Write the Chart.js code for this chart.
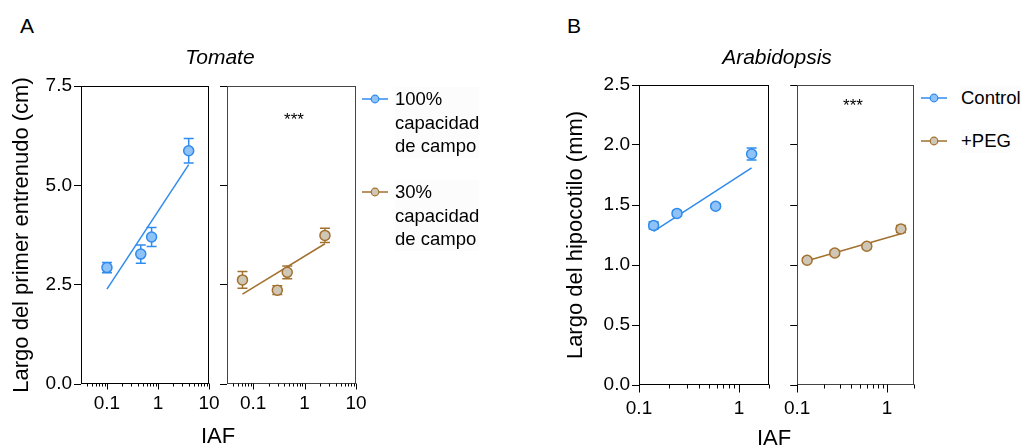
<!DOCTYPE html>
<html><head><meta charset="utf-8">
<script src="https://cdn.jsdelivr.net/npm/chart.js@4.4.1/dist/chart.umd.min.js"></script>
<style>
html,body{margin:0;padding:0;background:#fff;width:1023px;height:447px;overflow:hidden;font-family:'Liberation Sans',Arial,sans-serif;color:#000}
canvas{position:absolute}
.t{position:absolute;white-space:nowrap;line-height:1}
.leg{position:absolute;font-size:18.5px;line-height:23.5px;white-space:nowrap}
.leg svg{position:absolute}
</style></head><body>
<canvas id="a1" width="229" height="387" style="left:0px;top:60px"></canvas>
<canvas id="a2" width="161" height="387" style="left:215px;top:60px"></canvas>
<canvas id="b1" width="245" height="387" style="left:540px;top:60px"></canvas>
<canvas id="b2" width="160" height="387" style="left:772px;top:60px"></canvas>
<div class="t" style="left:20px;top:15px;font-size:21px">A</div>
<div class="t" style="left:567px;top:15px;font-size:21px">B</div>
<div class="t" id="titleA" style="left:220px;top:46px;font-size:21px;font-style:italic;transform:translateX(-50%)"></div>
<div class="t" id="titleB" style="left:777px;top:46px;font-size:21px;font-style:italic;transform:translateX(-50%)"></div>
<div class="t" id="sigA" style="left:294px;top:111px;font-size:17px;transform:translateX(-50%)"></div>
<div class="t" id="sigB" style="left:853px;top:97px;font-size:17px;transform:translateX(-50%)"></div>
<div class="t" id="xtA" style="left:218px;top:425px;font-size:22px;transform:translateX(-50%)"></div>
<div class="t" id="xtB" style="left:774px;top:427px;font-size:22px;transform:translateX(-50%)"></div>
<div id="legA"></div>
<div id="legB"></div>
<script>
// ---------------- DATA ----------------
const panelTitles = ['Tomate', 'Arabidopsis'];
const xAxisTitle = 'IAF';
const yTitleA = 'Largo del primer entrenudo (cm)';
const yTitleB = 'Largo del hipocotilo (mm)';
const significance = '***';

const seriesA = ['100%\ncapacidad\nde campo', '30%\ncapacidad\nde campo'];
const seriesB = ['Control', '+PEG'];

// Tomate, 100% capacidad de campo
const tomIAF100 = [0.10, 0.46, 0.75, 4.0];
const tomLen100 = [2.93, 3.27, 3.70, 5.87];
const tomErr100 = [0.13, 0.23, 0.24, 0.31];
const tomFitX100 = [0.10, 4.0];
const tomFitY100 = [2.39, 5.52];
// Tomate, 30% capacidad de campo
const tomIAF30 = [0.062, 0.295, 0.46, 2.49];
const tomLen30 = [2.62, 2.36, 2.81, 3.74];
const tomErr30 = [0.21, 0.11, 0.16, 0.18];
const tomFitX30 = [0.062, 2.49];
const tomFitY30 = [2.26, 3.53];
// Arabidopsis, Control
const araIAFc = [0.14, 0.24, 0.585, 1.34];
const araLenC = [1.33, 1.43, 1.49, 1.925];
const araErrC = [0.03, 0.02, 0.02, 0.05];
const araFitXc = [0.14, 1.34];
const araFitYc = [1.28, 1.81];
// Arabidopsis, +PEG
const araIAFp = [0.129, 0.262, 0.596, 1.43];
const araLenP = [1.04, 1.10, 1.156, 1.30];
const araErrP = [0.02, 0.02, 0.02, 0.03];
const araFitXp = [0.129, 1.43];
const araFitYp = [1.036, 1.26];

// Tick labels
const yTicksA = [0, 2.5, 5.0, 7.5];
const yTicksB = [0, 0.5, 1.0, 1.5, 2.0, 2.5];
const xMajorA = [0.1, 1, 10];
const xMajorB = [0.1, 1];

// ---------------- STYLE ----------------
const BLUE = '#2F8BEE', BLUE_FILL = '#8FC2F6';
const BROWN = '#A2712F', BROWN_FILL = '#D0C6B6';

Chart.defaults.font.family = "'Liberation Sans', Arial, sans-serif";
Chart.defaults.color = '#000';

function pts(xs, ys){ return xs.map((x,i)=>({x:x, y:ys[i]})); }

const panelPlugin = {
  id: 'panel',
  beforeDatasetsDraw(chart){
    const ctx = chart.ctx, xs = chart.scales.x, ys = chart.scales.y;
    chart.data.datasets.forEach(ds=>{
      if(!ds.errors) return;
      ctx.save(); ctx.strokeStyle = ds.borderColor; ctx.lineWidth = 1.5;
      ds.data.forEach((p,i)=>{
        const e = ds.errors[i];
        const x = xs.getPixelForValue(p.x);
        const y1 = ys.getPixelForValue(p.y + e), y2 = ys.getPixelForValue(p.y - e);
        ctx.beginPath();
        ctx.moveTo(x, y1); ctx.lineTo(x, y2);
        ctx.moveTo(x-5, y1); ctx.lineTo(x+5, y1);
        ctx.moveTo(x-5, y2); ctx.lineTo(x+5, y2);
        ctx.stroke();
      });
      ctx.restore();
    });
  },
  afterDraw(chart){
    const o = chart.options.plugins.panel;
    const ctx = chart.ctx, a = chart.chartArea, xs = chart.scales.x;
    ctx.save();
    ctx.strokeStyle = o.frame; ctx.lineWidth = 1;
    const l = Math.round(a.left)+0.5, t = Math.round(a.top)+0.5, r = Math.round(a.right)-0.5, b = Math.round(a.bottom)-0.5;
    ctx.strokeRect(l, t, r-l, b-t);
    ctx.strokeStyle = '#000';
    ctx.beginPath();
    xs.ticks.forEach(tk=>{
      const x = Math.round(xs.getPixelForValue(tk.value))+0.5;
      const len = o.majors.includes(tk.value) ? o.majorLen : o.minorLen;
      ctx.moveTo(x, b); ctx.lineTo(x, b+len);
    });
    ctx.stroke();
    ctx.restore();
  }
};

function makePanel(id, c){
  const ticksList = [];
  [0.01, 0.1, 1].forEach(d=>{
    for(let m=1;m<=9;m++){
      const v = +(m*d).toPrecision(3);
      if(v >= c.xmin - 1e-9 && v <= c.xmax + 1e-9) ticksList.push(v);
    }
  });
  c.majors.forEach(v=>{ if(!ticksList.includes(v) && v<=c.xmax) ticksList.push(v); });
  ticksList.sort((p,q)=>p-q);
  new Chart(document.getElementById(id), {
    type: 'scatter',
    data: { datasets: c.datasets },
    options: {
      responsive: false, animation: false, devicePixelRatio: 1,
      layout: { padding: { left: 0, top: c.padTop, right: c.padRight, bottom: 0 } },
      plugins: { legend: {display:false}, tooltip: {enabled:false},
        panel: { frame: c.frame, majors: c.majors, majorLen: c.majorLen, minorLen: c.minorLen } },
      scales: {
        x: {
          type: 'logarithmic', min: c.xmin, max: c.xmax,
          afterBuildTicks: s => { s.ticks = ticksList.map(v=>({value:v, major: c.majors.includes(v)})); },
          afterFit: s => { s.height = c.xh; },
          grid: { display: false, drawTicks: false },
          border: { display: false },
          ticks: { autoSkip: false, maxRotation: 0, minRotation: 0, padding: c.xPad, color:'#000',
            font: { size: 19 },
            callback: v => c.majors.includes(v) ? String(v) : '' }
        },
        y: {
          min: c.yTicks[0], max: c.yTicks[c.yTicks.length-1],
          afterBuildTicks: s => { s.ticks = c.yTicks.map(v=>({value:v})); },
          afterFit: s => { s.width = c.yw; },
          grid: { display: true, drawOnChartArea: false, drawTicks: true, tickLength: 7, color: '#000', lineWidth: 1 },
          border: { display: false },
          ticks: { display: c.yLabels, padding: 2, color:'#000', font: { size: 19 },
            callback: v => v.toFixed(1) },
          title: { display: !!c.yTitle, text: c.yTitle || '', font: { size: 22 }, color:'#000',
            padding: { top: c.yTitlePad || 0, bottom: 0 } }
        }
      }
    },
    plugins: [panelPlugin]
  });
}

function pointsDS(label, xs, ys, errs, col, fill){
  return { label, data: pts(xs, ys), errors: errs, showLine: false,
    pointRadius: 5, pointBorderWidth: 1.5, pointBackgroundColor: fill, pointBorderColor: col,
    borderColor: col, backgroundColor: fill };
}
function fitDS(xs, ys, col){
  return { data: pts(xs, ys), showLine: true, pointRadius: 0, borderColor: col, borderWidth: 1.5, fill: false };
}

makePanel('a1', { yw: 81, padTop: 26, padRight: 20, xh: 63, xmin: 0.031, xmax: 10, majors: xMajorA,
  majorLen: 6, minorLen: 3, xPad: 8, yTicks: yTicksA, yLabels: true, yTitle: yTitleA, yTitlePad: 9, frame: '#000',
  datasets: [pointsDS(seriesA[0], tomIAF100, tomLen100, tomErr100, BLUE, BLUE_FILL), fitDS(tomFitX100, tomFitY100, BLUE)] });
makePanel('a2', { yw: 12, padTop: 26, padRight: 20, xh: 63, xmin: 0.031, xmax: 10, majors: xMajorA,
  majorLen: 6, minorLen: 3, xPad: 8, yTicks: yTicksA, yLabels: false, frame: '#444',
  datasets: [pointsDS(seriesA[1], tomIAF30, tomLen30, tomErr30, BROWN, BROWN_FILL), fitDS(tomFitX30, tomFitY30, BROWN)] });
makePanel('b1', { yw: 99, padTop: 25, padRight: 16, xh: 62, xmin: 0.1, xmax: 2, majors: xMajorB,
  majorLen: 8, minorLen: 4, xPad: 12, yTicks: yTicksB, yLabels: true, yTitle: yTitleB, yTitlePad: 23, frame: '#000',
  datasets: [pointsDS(seriesB[0], araIAFc, araLenC, araErrC, BLUE, BLUE_FILL), fitDS(araFitXc, araFitYc, BLUE)] });
makePanel('b2', { yw: 14, padTop: 25, padRight: 18, xh: 62, xmin: 0.1, xmax: 2, majors: xMajorB,
  majorLen: 8, minorLen: 4, xPad: 12, yTicks: yTicksB, yLabels: false, frame: '#444',
  datasets: [pointsDS(seriesB[1], araIAFp, araLenP, araErrP, BROWN, BROWN_FILL), fitDS(araFitXp, araFitYp, BROWN)] });

// text
document.getElementById('titleA').textContent = panelTitles[0];
document.getElementById('titleB').textContent = panelTitles[1];
document.getElementById('sigA').textContent = significance;
document.getElementById('sigB').textContent = significance;
document.getElementById('xtA').textContent = xAxisTitle;
document.getElementById('xtB').textContent = xAxisTitle;

function legendItem(parent, label, col, fill, lineX, textX, y){
  const svg = `<svg width="30" height="12" style="left:${lineX}px;top:${y-6}px"><line x1="0" y1="6" x2="26" y2="6" stroke="${col}" stroke-width="1.5"/><circle cx="13" cy="6" r="3.8" fill="${fill}" stroke="${col}" stroke-width="1.2"/></svg>`;
  const d = document.createElement('div');
  d.innerHTML = svg;
  parent.appendChild(d);
  const t = document.createElement('div');
  t.className = 'leg';
  t.style.left = textX + 'px'; t.style.top = (y - 11.75) + 'px';
  t.style.background = '#fcfcfc';
  t.innerHTML = label.split('\n').map(s=>s.replace(/&/g,'&amp;')).join('<br>');
  parent.appendChild(t);
  d.firstChild.style.position = 'absolute';
}
const legA = document.getElementById('legA'), legB = document.getElementById('legB');
legendItem(legA, seriesA[0], BLUE, BLUE_FILL, 362, 395, 99);
legendItem(legA, seriesA[1], BROWN, BROWN_FILL, 362, 395, 192);
legendItem(legB, seriesB[0], BLUE, BLUE_FILL, 921, 961, 98);
legendItem(legB, seriesB[1], BROWN, BROWN_FILL, 921, 961, 141);
</script>
</body></html>
